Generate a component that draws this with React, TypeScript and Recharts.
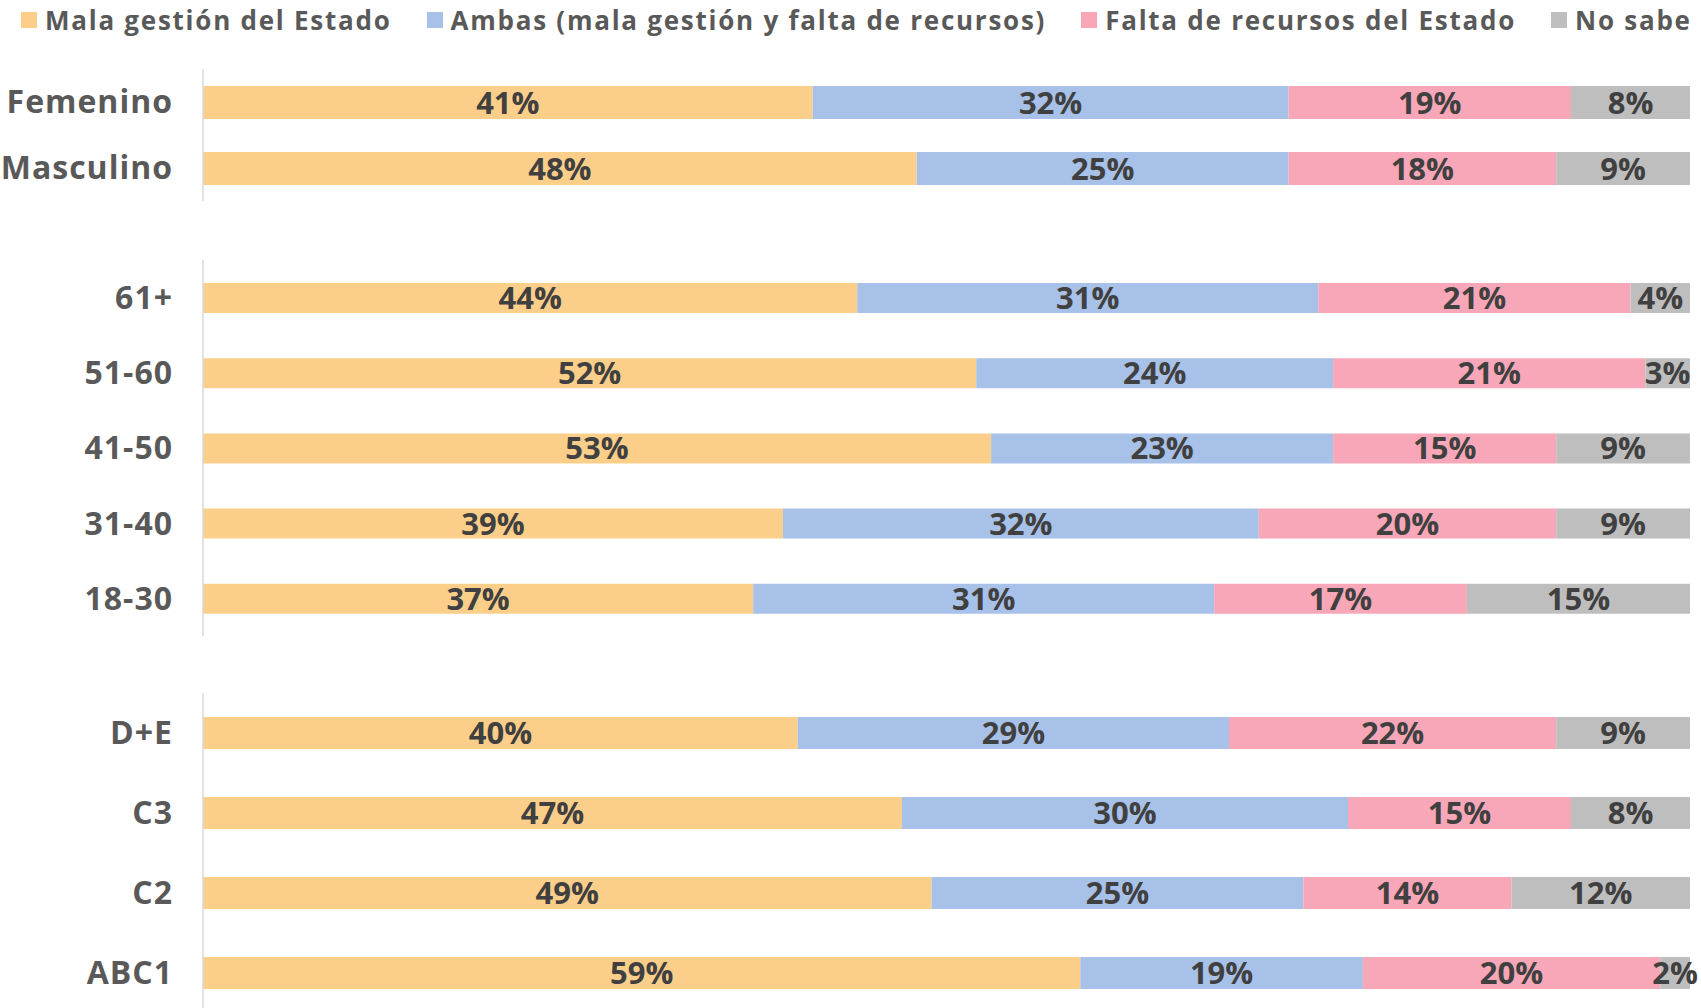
import React from 'react';
import { BarChart, Bar, XAxis, YAxis, LabelList, Legend } from 'recharts';

// ---- Data ----
const seriesNames = [
  'Mala gestión del Estado',
  'Ambas (mala gestión y falta de recursos)',
  'Falta de recursos del Estado',
  'No sabe',
];
const seriesKeys = ['mala', 'ambas', 'falta', 'nosabe'];
const seriesColors = ['#FBCF8A', '#A8C1E8', '#F8A7B8', '#BEBEBE'];

const genderCats = ['Femenino', 'Masculino'];
const genderMala = [41, 48];
const genderAmbas = [32, 25];
const genderFalta = [19, 18];
const genderNoSabe = [8, 9];

const ageCats = ['61+', '51-60', '41-50', '31-40', '18-30'];
const ageMala = [44, 52, 53, 39, 37];
const ageAmbas = [31, 24, 23, 32, 31];
const ageFalta = [21, 21, 15, 20, 17];
const ageNoSabe = [4, 3, 9, 9, 15];

const gseCats = ['D+E', 'C3', 'C2', 'ABC1'];
const gseMala = [40, 47, 49, 59];
const gseAmbas = [29, 30, 25, 19];
const gseFalta = [22, 15, 14, 20];
const gseNoSabe = [9, 8, 12, 2];

const build = (cats: string[], a: number[], b: number[], c: number[], d: number[]) =>
  cats.map((name, i) => ({ name, mala: a[i], ambas: b[i], falta: c[i], nosabe: d[i] }));

const genderData = build(genderCats, genderMala, genderAmbas, genderFalta, genderNoSabe);
const ageData = build(ageCats, ageMala, ageAmbas, ageFalta, ageNoSabe);
const gseData = build(gseCats, gseMala, gseAmbas, gseFalta, gseNoSabe);

const FONT = '"Open Sans", sans-serif';
const CHART_W = 1701;

const LegendContent = () => (
  <div
    style={{
      display: 'flex',
      alignItems: 'center',
      height: 40,
      paddingLeft: 21,
      fontFamily: FONT,
      fontWeight: 700,
      fontSize: 26,
      color: '#595959',
      letterSpacing: 1.75,
      whiteSpace: 'nowrap',
    }}
  >
    {seriesNames.map((n, i) => (
      <div key={n} style={{ display: 'flex', alignItems: 'center', marginRight: 35 }}>
        <span
          style={{
            display: 'inline-block',
            width: 16,
            height: 16,
            background: seriesColors[i],
            marginRight: 8,
          }}
        />
        <span style={{ lineHeight: '40px' }}>{n}</span>
      </div>
    ))}
  </div>
);

const Group = ({
  data,
  height,
  barSize,
  marginTop,
  withLegend,
}: {
  data: any[];
  height: number;
  barSize: number;
  marginTop: number;
  withLegend?: boolean;
}) => (
  <BarChart
    width={CHART_W}
    height={height}
    data={data}
    layout="vertical"
    margin={{ top: marginTop, right: 11, bottom: 0, left: 0 }}
  >
    {withLegend && (
      <Legend
        verticalAlign="top"
        align="left"
        wrapperStyle={{ top: 0, left: 0, width: CHART_W, height: 40 }}
        content={() => <LegendContent />}
      />
    )}
    <XAxis type="number" domain={[0, 100]} hide />
    <YAxis
      type="category"
      dataKey="name"
      width={203}
      axisLine={{ stroke: '#D9D9D9', strokeWidth: 1.5 }}
      tickLine={false}
      tickSize={0}
      tickMargin={30}
      tick={{
        fill: '#595959',
        fontSize: 32,
        fontWeight: 700,
        fontFamily: FONT,
        letterSpacing: 1,
      }}
      interval={0}
    />
    {seriesKeys.map((k, i) => (
      <Bar
        key={k}
        dataKey={k}
        name={seriesNames[i]}
        stackId="s"
        fill={seriesColors[i]}
        barSize={barSize}
        isAnimationActive={false}
      >
        <LabelList
          dataKey={k}
          position="center"
          formatter={(v: any) => `${v}%`}
          style={{
            fill: '#404040',
            fontSize: 31,
            fontWeight: 700,
            fontFamily: FONT,
          }}
        />
      </Bar>
    ))}
  </BarChart>
);

export default function App() {
  return (
    <div
      style={{
        position: 'fixed',
        left: 0,
        top: 0,
        width: 1701,
        height: 1008,
        overflow: 'hidden',
        background: '#fff',
        fontFamily: FONT,
      }}
    >
      <div style={{ position: 'absolute', left: 0, top: 0 }}>
        <Group data={genderData} height={201} barSize={33} marginTop={29} withLegend />
      </div>
      <div style={{ position: 'absolute', left: 0, top: 260 }}>
        <Group data={ageData} height={376} barSize={30} marginTop={0} />
      </div>
      <div style={{ position: 'absolute', left: 0, top: 693 }}>
        <Group data={gseData} height={320} barSize={32} marginTop={0} />
      </div>
    </div>
  );
}
